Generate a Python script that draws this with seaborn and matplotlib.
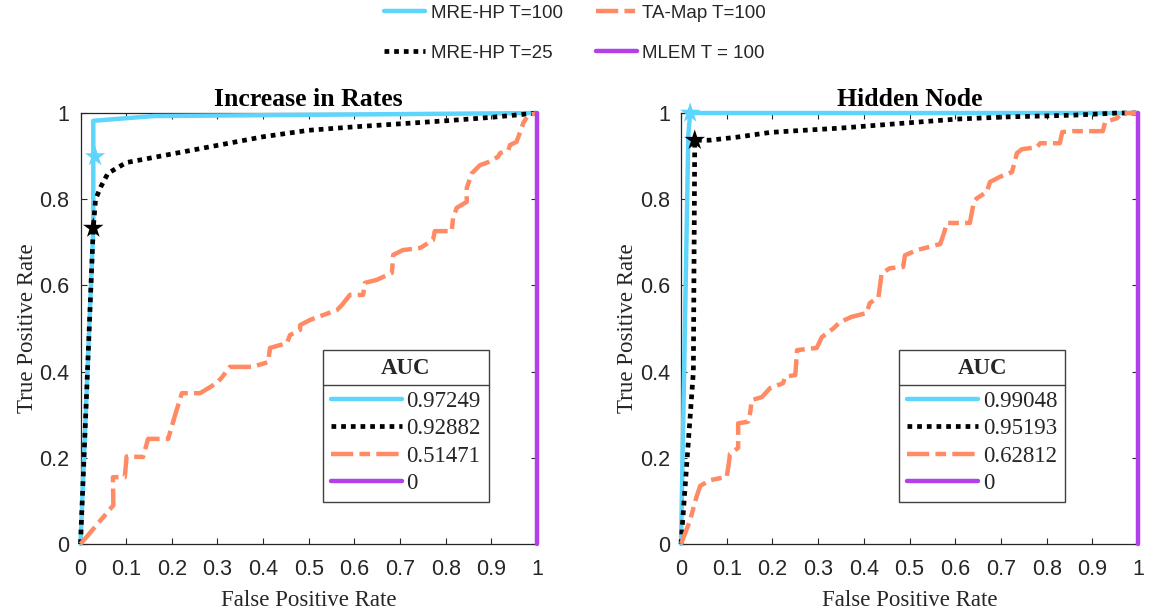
import numpy as np
import pandas as pd
import matplotlib
matplotlib.use("Agg")
import matplotlib.pyplot as plt
from matplotlib.lines import Line2D
import seaborn as sns

# ---------------- data ----------------
titles = ["Increase in Rates", "Hidden Node"]
series_names = ["MRE-HP T=100", "MRE-HP T=25", "TA-Map T=100", "MLEM T = 100"]
auc_left = ["0.97249", "0.92882", "0.51471", "0"]
auc_right = ["0.99048", "0.95193", "0.62812", "0"]

# Left panel: Increase in Rates
L_mre100_fpr = [0, 0.028, 0.028, 0.16, 1.0]
L_mre100_tpr = [0, 0.733, 0.982, 0.993, 1.0]
L_mre25_fpr = [0, 0.028, 0.033, 0.045, 0.06, 0.10, 0.20, 0.30, 0.40, 0.50, 0.60, 0.70, 0.80, 0.90, 1.0]
L_mre25_tpr = [0, 0.733, 0.80, 0.83, 0.86, 0.885, 0.905, 0.925, 0.945, 0.96, 0.968, 0.975, 0.982, 0.99, 1.0]
L_ta_fpr = [0, 0.072, 0.071, 0.097, 0.101, 0.137, 0.148, 0.192, 0.206, 0.222, 0.262, 0.299, 0.31,
            0.327, 0.376, 0.411, 0.415, 0.452, 0.459, 0.481, 0.481, 0.503, 0.531, 0.562, 0.573,
            0.59, 0.619, 0.623, 0.649, 0.682, 0.685, 0.706, 0.744, 0.772, 0.776, 0.813, 0.816,
            0.824, 0.846, 0.846, 0.857, 0.875, 0.893, 0.914, 0.919, 0.937, 0.941, 0.955, 0.963,
            0.97, 0.98, 1.0]
L_ta_tpr = [0, 0.09, 0.155, 0.155, 0.203, 0.202, 0.244, 0.244, 0.295, 0.35, 0.35, 0.374, 0.387,
            0.411, 0.411, 0.422, 0.455, 0.466, 0.485, 0.497, 0.508, 0.52, 0.531, 0.543, 0.555,
            0.578, 0.578, 0.606, 0.613, 0.629, 0.671, 0.682, 0.687, 0.705, 0.726, 0.726, 0.756,
            0.78, 0.794, 0.826, 0.86, 0.879, 0.886, 0.898, 0.907, 0.914, 0.926, 0.933, 0.956,
            0.977, 0.995, 1.0]
L_mlem_fpr = [1.0, 1.0]
L_mlem_tpr = [0.0, 1.0]
L_star_fpr = [0.032, 0.028]
L_star_tpr = [0.899, 0.733]

# Right panel: Hidden Node
R_mre100_fpr = [0, 0.016, 0.02, 1.0]
R_mre100_tpr = [0, 0.95, 1.0, 1.0]
R_mre25_fpr = [0, 0.027, 0.03, 0.063, 0.122, 0.195, 0.238, 0.348, 0.494, 0.604, 0.713, 0.858, 0.954, 1.0]
R_mre25_tpr = [0, 0.40, 0.937, 0.937, 0.944, 0.955, 0.958, 0.965, 0.977, 0.986, 0.991, 0.995, 1.0, 1.0]
R_ta_fpr = [0, 0.02, 0.034, 0.042, 0.063, 0.10, 0.105, 0.107, 0.125, 0.125, 0.147, 0.151, 0.155,
            0.177, 0.195, 0.223, 0.228, 0.25, 0.254, 0.297, 0.308, 0.333, 0.348, 0.373, 0.406,
            0.413, 0.432, 0.439, 0.457, 0.486, 0.49, 0.516, 0.567, 0.574, 0.582, 0.632, 0.64,
            0.647, 0.669, 0.676, 0.698, 0.724, 0.73, 0.735, 0.746, 0.779, 0.786, 0.829, 0.834,
            0.858, 0.923, 0.928, 0.954, 0.965, 1.0]
R_ta_tpr = [0, 0.056, 0.11, 0.135, 0.148, 0.156, 0.19, 0.209, 0.223, 0.28, 0.284, 0.303, 0.334,
            0.341, 0.362, 0.373, 0.388, 0.392, 0.45, 0.455, 0.48, 0.5, 0.515, 0.527, 0.536,
            0.559, 0.573, 0.628, 0.64, 0.643, 0.67, 0.682, 0.696, 0.717, 0.745, 0.745, 0.79,
            0.802, 0.817, 0.84, 0.852, 0.863, 0.886, 0.907, 0.916, 0.921, 0.93, 0.93, 0.956,
            0.958, 0.958, 0.979, 0.988, 1.0, 1.0]
R_mlem_fpr = [1.0, 1.0]
R_mlem_tpr = [0.0, 1.0]
R_star_fpr = [0.02, 0.03]
R_star_tpr = [1.0, 0.937]

x_ticks = [0, 0.1, 0.2, 0.3, 0.4, 0.5, 0.6, 0.7, 0.8, 0.9, 1]
x_ticklabels = ["0", "0.1", "0.2", "0.3", "0.4", "0.5", "0.6", "0.7", "0.8", "0.9", "1"]
y_ticks = [0, 0.2, 0.4, 0.6, 0.8, 1]
y_ticklabels = ["0", "0.2", "0.4", "0.6", "0.8", "1"]

# ---------------- style ----------------
sns.set_theme(style="ticks")
plt.rcParams["font.family"] = ["Liberation Serif", "DejaVu Serif"]

C_CYAN = "#5ED5FC"
C_BLACK = "#000000"
C_ORANGE = "#FF8A63"
C_PURPLE = "#B23FE8"
AX_COLOR = "#262626"

styles = [
    dict(color=C_CYAN, linestyle="-", linewidth=3.2),
    dict(color=C_BLACK, linestyle=(0, (1.0, 1.05)), linewidth=3.4),
    dict(color=C_ORANGE, linestyle=(0, (5.0, 1.4, 2.4, 1.4)), linewidth=3.2),
    dict(color=C_PURPLE, linestyle="-", linewidth=3.2),
]

fig = plt.figure(figsize=(11.5, 6.15), dpi=100)
ax_left = fig.add_axes([0.0700, 0.1154, 0.3970, 0.7008])
ax_right = fig.add_axes([0.5922, 0.1154, 0.3974, 0.7008])

panels = [
    (ax_left, titles[0],
     [(L_mre100_fpr, L_mre100_tpr), (L_mre25_fpr, L_mre25_tpr), (L_ta_fpr, L_ta_tpr), (L_mlem_fpr, L_mlem_tpr)],
     (L_star_fpr, L_star_tpr), auc_left, (0.531, 0.097)),
    (ax_right, titles[1],
     [(R_mre100_fpr, R_mre100_tpr), (R_mre25_fpr, R_mre25_tpr), (R_ta_fpr, R_ta_tpr), (R_mlem_fpr, R_mlem_tpr)],
     (R_star_fpr, R_star_tpr), auc_right, (0.477, 0.097)),
]

LEG_FS = 16.5
LEG_LS = 0.28
legend_boxes = []
for ax, title, curves, stars, aucs, anchor in panels:
    handles = []
    for (fx, ty), st, name in zip(curves, styles, series_names):
        df = pd.DataFrame({"fpr": fx, "tpr": ty})
        n_before = len(ax.lines)
        sns.lineplot(data=df, x="fpr", y="tpr", sort=False, estimator=None, ax=ax,
                     color=st["color"], linestyle=st["linestyle"], linewidth=st["linewidth"],
                     label=name, legend=False, zorder=3)
        ln = ax.lines[n_before]
        ln.set_clip_on(False)
        ln.set_dash_capstyle("butt")
        handles.append(ln)
    # star markers (cyan on MRE-HP T=100, black on MRE-HP T=25)
    sdf = pd.DataFrame({"fpr": stars[0], "tpr": stars[1], "who": ["c", "k"]})
    sns.scatterplot(data=sdf, x="fpr", y="tpr", hue="who", palette={"c": C_CYAN, "k": C_BLACK},
                    marker="*", s=240, linewidth=0, ax=ax, legend=False, zorder=5, clip_on=False)

    ax.set_xlim(0, 1)
    ax.set_ylim(0, 1)
    ax.set_xticks(x_ticks)
    ax.set_xticklabels(x_ticklabels)
    ax.set_yticks(y_ticks)
    ax.set_yticklabels(y_ticklabels)
    ax.tick_params(direction="in", top=True, right=True, length=4, width=0.8,
                   color=AX_COLOR, labelcolor=AX_COLOR, labelsize=15.5)
    ax.tick_params(axis="x", pad=11)
    ax.tick_params(axis="y", pad=8)
    for lab in ax.get_xticklabels() + ax.get_yticklabels():
        lab.set_family(["Liberation Sans", "DejaVu Sans"])
    for sp in ax.spines.values():
        sp.set_visible(True)
        sp.set_color(AX_COLOR)
        sp.set_linewidth(0.9)
        sp.set_zorder(2.5)
    ax.set_xlabel("False Positive Rate", fontsize=16.5, color=AX_COLOR, labelpad=7)
    ax.set_ylabel("True Positive Rate", fontsize=16.5, color=AX_COLOR, labelpad=1)
    ax.set_title(title, fontsize=18.5, fontweight="bold", color="black", pad=5)
    ax.grid(False)

    leg = ax.legend(handles=handles, labels=aucs, title="AUC", loc="lower left",
                    bbox_to_anchor=anchor, frameon=True, fancybox=False, framealpha=1,
                    edgecolor="#404040", fontsize=LEG_FS, handlelength=3.1, handletextpad=0.2,
                    labelspacing=LEG_LS, borderpad=0.35, borderaxespad=0,
                    title_fontproperties={"weight": "bold", "size": LEG_FS,
                                          "family": ["Liberation Serif", "DejaVu Serif"]})
    leg.get_frame().set_linewidth(1.0)
    leg.set_zorder(6)
    try:
        leg._legend_box.sep = LEG_LS * LEG_FS + 4.0
    except Exception:
        pass
    legend_boxes.append(leg)

# top figure legend
top_handles = [Line2D([], [], **st) for st in styles]
for h in top_handles:
    h.set_dash_capstyle("butt")
fig.legend(handles=top_handles, labels=series_names, loc="center", bbox_to_anchor=(0.5, 0.946),
           ncol=2, frameon=False, handlelength=2.2, handletextpad=0.3, columnspacing=1.75,
           labelspacing=1.2, prop={"family": ["Liberation Sans", "DejaVu Sans"], "size": 13.5})

# separator line under the "AUC" title in each box
fig.canvas.draw()
renderer = fig.canvas.get_renderer()
inv = fig.transFigure.inverted()
for leg in legend_boxes:
    fb = leg.get_frame().get_window_extent(renderer)
    tb = leg.get_title().get_window_extent(renderer)
    t0 = leg.get_texts()[0].get_window_extent(renderer)
    ysep = 0.5 * (tb.y0 + t0.y1)
    (x0, y0) = inv.transform((fb.x0, ysep))
    (x1, _) = inv.transform((fb.x1, ysep))
    fig.add_artist(Line2D([x0, x1], [y0, y0], transform=fig.transFigure, color="#404040",
                          linewidth=1.0, zorder=10))

fig.savefig("out.png", dpi=100)
